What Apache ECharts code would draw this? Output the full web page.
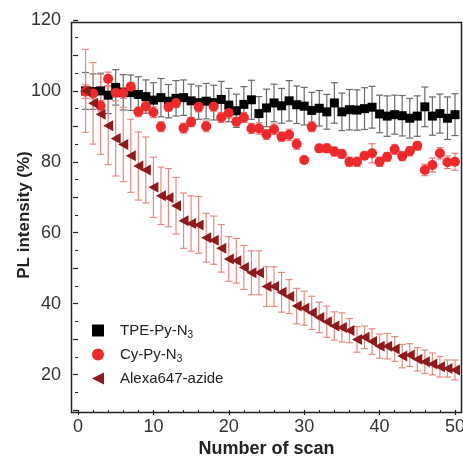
<!DOCTYPE html>
<html>
<head>
<meta charset="utf-8">
<script src="https://cdn.jsdelivr.net/npm/echarts@6/dist/echarts.min.js"></script>
<style>
  html, body { margin: 0; padding: 0; background: #fff; }
  #chart { width: 463px; height: 462px; }
</style>
</head>
<body>
<div id="chart"></div>
<script>
// scan number 1..50
const scans = [1,2,3,4,5,6,7,8,9,10,11,12,13,14,15,16,17,18,19,20,21,22,23,24,25,
  26,27,28,29,30,31,32,33,34,35,36,37,38,39,40,41,42,43,44,45,46,47,48,49,50];

const tpeValues = [100,99.8,100,98.8,101,99.6,99.5,99,98.4,97.4,98.1,97.1,97.9,98.1,97.2,96.7,97.1,96.7,97.6,96.0,
  94.4,96.2,97.5,93.6,95.2,96.6,95.8,97.2,96.1,95.7,94.5,95.1,94.1,96.6,94.1,94.7,94.6,95.0,95.4,93.5,
  92.9,93.3,93.0,92.3,92.9,95.5,92.9,93.6,92.3,93.3];
const tpeErrors = [5.2,5.0,5.0,5.2,5.0,5.0,5.0,5.0,4.7,4.9,5.4,4.7,5.0,5.0,4.7,4.7,5.0,4.9,5.1,4.7,
  4.7,5.0,5.5,4.8,5.3,5.3,4.9,5.7,5.3,5.3,5.1,5.0,4.9,5.7,5.3,5.7,5.7,5.9,5.9,5.3,
  5.7,5.5,5.7,5.6,5.7,5.6,5.4,5.5,6.0,5.9];

const cyValues = [99.8,99.3,95.8,103.4,99.5,99.4,101.2,94.1,95.7,94.0,89.9,95.5,96.6,89.5,91.2,95.5,90.0,95.6,92.5,93.8,
  91.3,92.5,89.4,89.4,87.7,89.2,87.1,87.6,85.0,80.5,89.9,83.8,83.8,82.9,82.2,80.0,80.0,81.7,82.4,80.0,
  81.4,83.5,81.6,83.0,84.5,77.7,79.1,82.4,79.9,80.0];
const cyErrors = [1.9,1.6,1.5,1.9,1.2,1.5,1.2,1.4,1.3,1.5,1.4,1.2,1.3,1.4,1.3,1.4,1.5,1.3,1.4,1.5,
  1.2,1.4,1.4,1.6,1.4,1.5,1.3,1.6,1.5,0.8,1.4,1.1,1.2,1.3,1.2,1.3,1.3,1.0,2.7,1.3,
  1.2,1.4,1.3,1.3,1.1,1.6,2.0,1.6,1.8,2.4];

const alexaValues = [100,96.5,93.4,90.2,86.6,84.9,81.7,78.8,77.7,72.8,70.4,69.9,67.6,63.4,62.6,62.2,58.6,57.9,55.6,52.6,
  52.1,50.2,48.7,48.7,44.8,44.8,43.2,42.0,39.3,38.7,37.4,36.1,34.9,33.7,33.3,32.4,29.9,30.5,29.3,28.0,
  28.0,27.2,25.2,25.5,24.3,23.6,23.0,22.2,21.7,21.3];
const alexaErrors = [11.7,11.5,11.3,11.0,10.6,10.5,10.3,9.6,9.3,8.5,8.1,8.2,8.0,7.8,7.8,8.0,6.9,6.8,6.7,6.3,
  6.3,6.2,6.2,6.2,5.6,5.6,5.6,4.8,5.0,4.8,4.7,4.3,4.4,4.0,4.1,3.4,3.6,3.2,3.6,3.4,
  3.6,3.5,3.3,3.2,3.3,3.3,3.1,2.9,2.4,2.8];

const xTickLabels = [0, 10, 20, 30, 40, 50];
const yTickLabels = [20, 40, 60, 80, 100, 120];

const seriesNames = ["TPE-Py-N3", "Cy-Py-N3", "Alexa647-azide"];
const legendLabels = {
  "TPE-Py-N3": "TPE-Py-N{sub|3}",
  "Cy-Py-N3": "Cy-Py-N{sub|3}",
  "Alexa647-azide": "Alexa647-azide",
};

const font = "'Liberation Sans', Arial, sans-serif";

const points = (values) => scans.map((x, i) => [x, values[i]]);
const bars = (values, errors) =>
  scans.map((x, i) => [x, values[i] - errors[i], values[i] + errors[i]]);

//error bar with caps
const errorBar = (color) => (params, api) => {
  const x = api.value(0);
  const lo = api.coord([x, api.value(1)]);
  const hi = api.coord([x, api.value(2)]);
  const cap = 3.5;
  const style = { stroke: color, lineWidth: 1.2, fill: null };
  return {
    type: "group",
    children: [
      { type: "line", shape: { x1: lo[0], y1: lo[1], x2: hi[0], y2: hi[1] }, style },
      { type: "line", shape: { x1: lo[0] - cap, y1: lo[1], x2: lo[0] + cap, y2: lo[1] }, style },
      { type: "line", shape: { x1: hi[0] - cap, y1: hi[1], x2: hi[0] + cap, y2: hi[1] }, style },
    ],
  };
};

const chart = echarts.init(document.getElementById("chart"));

chart.setOption({
  animation: false,
  backgroundColor: "#fff",
  grid: { left: 78, right: 8, top: 20, bottom: 52, containLabel: false, outerBoundsMode: "none" },
  graphic: [
    {
      type: "rect",
      left: 69,
      top: 20,
      shape: { width: 390, height: 390 },
      style: { fill: null, stroke: "#222", lineWidth: 1.5 },
      z: 10,
    },
  ],
  legend: {
    orient: "vertical",
    left: 87,
    top: 318,
    itemWidth: 28,
    itemHeight: 12,
    itemGap: 7,
    data: seriesNames,
    formatter: (name) => legendLabels[name],
    textStyle: {
      fontSize: 15,
      color: "#222",
      fontFamily: font,
      padding: [0, 0, 0, 3],
      rich: {
        sub: { fontSize: 10, fontFamily: font, color: "#222", padding: [9, 0, 0, 0] },
      },
    },
  },
  xAxis: {
    type: "value",
    min: 0,
    max: 50,
    interval: 10,
    name: "Number of scan",
    nameLocation: "middle",
    nameGap: 30,
    nameMoveOverlap: false,
    nameTextStyle: { fontSize: 18, fontWeight: "bold", color: "#222", fontFamily: font },
    axisLine: { show: false },
    axisTick: { show: true, length: 5, lineStyle: { color: "#222", width: 1.2 } },
    minorTick: { show: true, splitNumber: 5, length: 3, lineStyle: { color: "#222", width: 1 } },
    axisLabel: {
      fontSize: 18,
      color: "#333",
      fontFamily: font,
      margin: 8,
      formatter: (v) => (xTickLabels.includes(v) ? String(v) : ""),
    },
    splitLine: { show: false },
  },
  yAxis: {
    type: "value",
    min: 10,
    max: 120,
    interval: 10,
    offset: 9,
    name: "PL intensity (%)",
    nameLocation: "middle",
    nameGap: 36,
    nameMoveOverlap: false,
    nameTextStyle: { fontSize: 17, fontWeight: "bold", color: "#222", fontFamily: font },
    axisLine: { show: false },
    axisTick: { show: true, length: 5, lineStyle: { color: "#222", width: 1.2 } },
    minorTick: { show: true, splitNumber: 2, length: 3, lineStyle: { color: "#222", width: 1 } },
    axisLabel: {
      fontSize: 18,
      color: "#333",
      fontFamily: font,
      margin: 8,
      formatter: (v) => (yTickLabels.includes(v) ? String(v) : ""),
    },
    splitLine: { show: false },
  },
  series: [
    {
      type: "custom",
      name: "tpe-err",
      renderItem: errorBar("#6a6a6a"),
      encode: { x: 0, y: [1, 2] },
      data: bars(tpeValues, tpeErrors),
      z: 1,
    },
    {
      type: "custom",
      name: "cy-err",
      renderItem: errorBar("#f07878"),
      encode: { x: 0, y: [1, 2] },
      data: bars(cyValues, cyErrors),
      z: 1,
    },
    {
      type: "custom",
      name: "alexa-err",
      renderItem: errorBar("#e58b80"),
      encode: { x: 0, y: [1, 2] },
      data: bars(alexaValues, alexaErrors),
      z: 1,
    },
    {
      type: "scatter",
      name: seriesNames[0],
      symbol: "path://M0,0L10,0L10,10L0,10Z",
      symbolSize: 9,
      itemStyle: { color: "#000", opacity: 1 },
      data: points(tpeValues),
      z: 2,
    },
    {
      type: "scatter",
      name: seriesNames[1],
      symbol: "circle",
      symbolSize: 10,
      itemStyle: { color: "#ec2a2c", opacity: 1 },
      data: points(cyValues),
      z: 3,
    },
    {
      type: "scatter",
      name: seriesNames[2],
      symbol: "path://M0,5L10,0L10,10Z",
      symbolSize: [10, 11],
      itemStyle: { color: "#8e1a1c", opacity: 1 },
      data: points(alexaValues),
      z: 4,
    },
  ],
});
</script>
</body>
</html>
